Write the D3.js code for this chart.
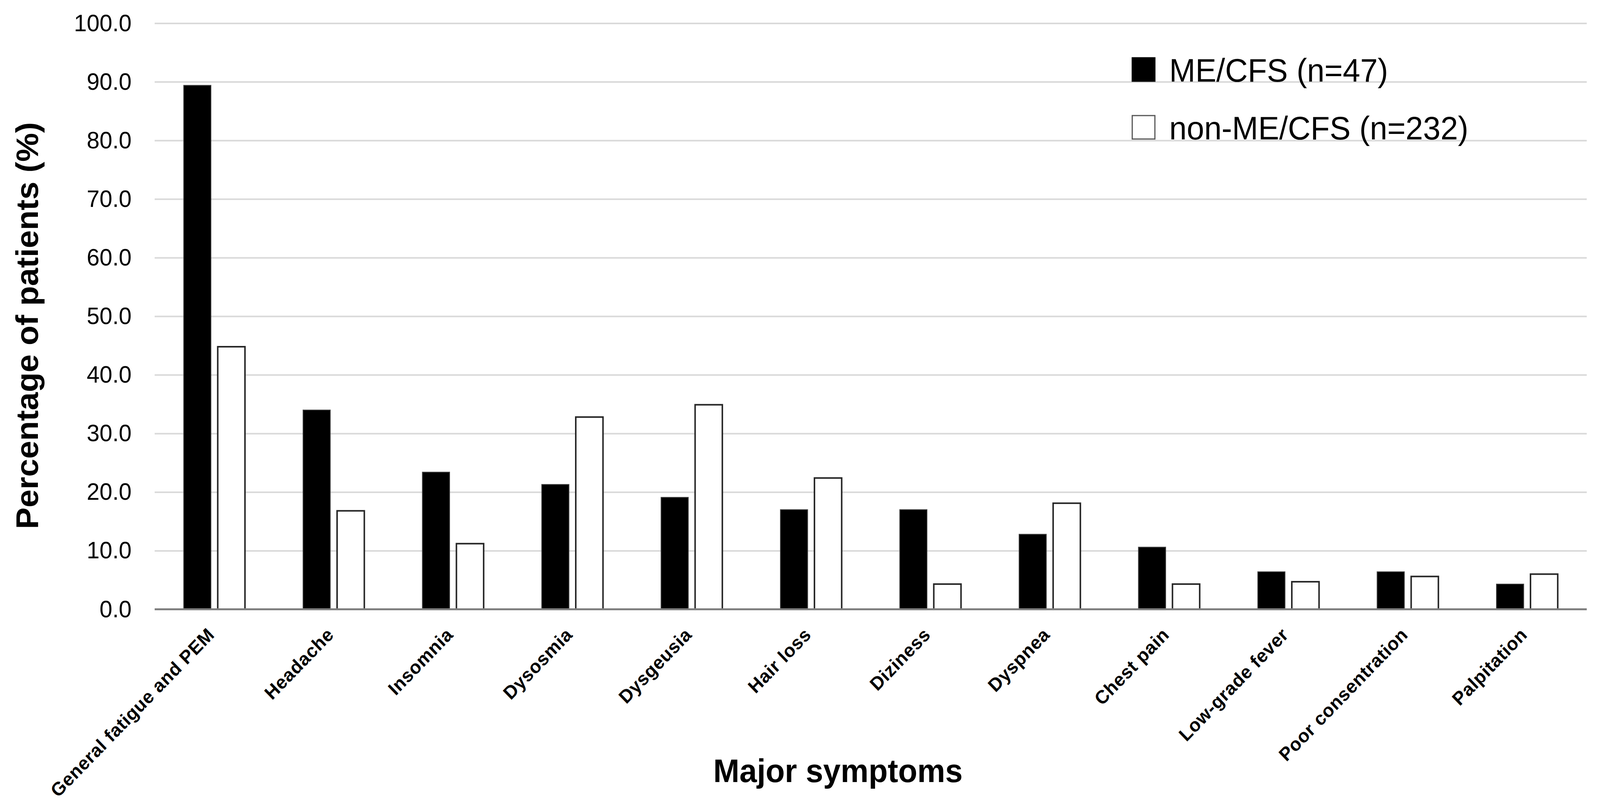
<!DOCTYPE html>
<html>
<head>
<meta charset="utf-8">
<script src="https://cdn.jsdelivr.net/npm/d3@7"></script>
<style>
  html, body { margin: 0; padding: 0; background: #fff; overflow: hidden; }
  svg { display: block; width: 100vw; height: 100vh; font-family: "Liberation Sans", Arial, sans-serif; }
</style>
</head>
<body>
<svg id="chart" viewBox="0 0 4231 2072" preserveAspectRatio="none"></svg>
<script>
// ── Data ──────────────────────────────────────────────────────────────────────
const symptoms = [
  'General fatigue and PEM', 'Headache', 'Insomnia', 'Dysosmia', 'Dysgeusia',
  'Hair loss', 'Diziness', 'Dyspnea', 'Chest pain', 'Low-grade fever',
  'Poor consentration', 'Palpitation'
]
const series = ['ME/CFS (n=47)', 'non-ME/CFS (n=232)']
const meCfs    = [89.4, 34.0, 23.4, 21.3, 19.1, 17.0, 17.0, 12.8, 10.6, 6.4, 6.4, 4.3]
const nonMeCfs = [44.8, 16.8, 11.2, 32.8, 34.9, 22.4, 4.3, 18.1, 4.3, 4.7, 5.6, 6.0]
const yTicks   = [0, 10, 20, 30, 40, 50, 60, 70, 80, 90, 100]

const rows = symptoms.map((s, i) => ({ s, vals: [meCfs[i], nonMeCfs[i]] }))

// ── Layout ────────────────────────────────────────────────────────────────────
const plot = { left: 409, right: 4196, top: 59.5, bottom: 1560.5 }
const fills   = ['#000000', '#ffffff']
const strokes = ['#404040', '#262626']
const strokeW = [2, 4]

const svg = d3.select('#chart')

const x = d3.scaleBand().domain(symptoms).range([plot.left, plot.right]).padding(0)
const xi = d3.scaleBand().domain(series).range([0, x.bandwidth()])
  .paddingInner(0.2).paddingOuter(0.853)
const y = d3.scaleLinear().domain([0, 100]).range([plot.bottom, plot.top])

// ── Grid + y axis ─────────────────────────────────────────────────────────────
const yAxis = svg.append('g')
  .attr('transform', `translate(${plot.left},0)`)
  .call(d3.axisLeft(y).tickValues(yTicks).tickFormat(d3.format('.1f'))
    .tickSize(-(plot.right - plot.left)).tickPadding(61))
yAxis.select('.domain').remove()
yAxis.selectAll('.tick line').attr('stroke', '#d9d9d9').attr('stroke-width', 4)
yAxis.selectAll('.tick text')
  .attr('font-size', 61).attr('fill', '#000').attr('font-family', null)

// ── Bars ──────────────────────────────────────────────────────────────────────
const groups = svg.append('g').selectAll('g')
  .data(rows).join('g')
  .attr('transform', d => `translate(${x(d.s)},0)`)

groups.selectAll('rect')
  .data(d => d.vals.map((v, k) => ({ k, v })))
  .join('rect')
  .attr('x', d => xi(series[d.k]))
  .attr('y', d => y(d.v))
  .attr('width', xi.bandwidth())
  .attr('height', d => y(0) - y(d.v))
  .attr('fill', d => fills[d.k])
  .attr('stroke', d => strokes[d.k])
  .attr('stroke-width', d => strokeW[d.k])

// ── x axis ────────────────────────────────────────────────────────────────────
svg.append('line')
  .attr('x1', plot.left).attr('x2', plot.right)
  .attr('y1', y(0)).attr('y2', y(0))
  .attr('stroke', '#808080').attr('stroke-width', 5)

svg.append('g').selectAll('text')
  .data(symptoms).join('text')
  .attr('transform', d => `translate(${x(d) + x.bandwidth() / 2 + 3},${y(0) + 68}) rotate(-45)`)
  .attr('text-anchor', 'end')
  .attr('font-size', 48)
  .attr('font-weight', 'bold')
  .attr('letter-spacing', 1)
  .text(d => d)

// ── Axis titles ───────────────────────────────────────────────────────────────
svg.append('text')
  .attr('transform', 'translate(100,834) rotate(-90)')
  .attr('text-anchor', 'middle')
  .attr('font-size', 83).attr('font-weight', 'bold')
  .text('Percentage of patients (%)')

svg.append('text')
  .attr('x', 2216).attr('y', 2003)
  .attr('text-anchor', 'middle')
  .attr('font-size', 83).attr('font-weight', 'bold')
  .text('Major symptoms')

// ── Legend ────────────────────────────────────────────────────────────────────
const legend = svg.append('g').attr('transform', 'translate(2992,146)')
const item = legend.selectAll('g')
  .data(series).join('g')
  .attr('transform', (d, i) => `translate(0,${i * 148})`)
item.append('rect')
  .attr('x', 2).attr('y', 2).attr('width', 60).attr('height', 60)
  .attr('fill', (d, i) => fills[i])
  .attr('stroke', (d, i) => i ? '#555' : '#000')
  .attr('stroke-width', 3)
item.append('text')
  .attr('x', 100).attr('y', 63)
  .attr('font-size', 83)
  .text(d => d)
</script>
</body>
</html>
